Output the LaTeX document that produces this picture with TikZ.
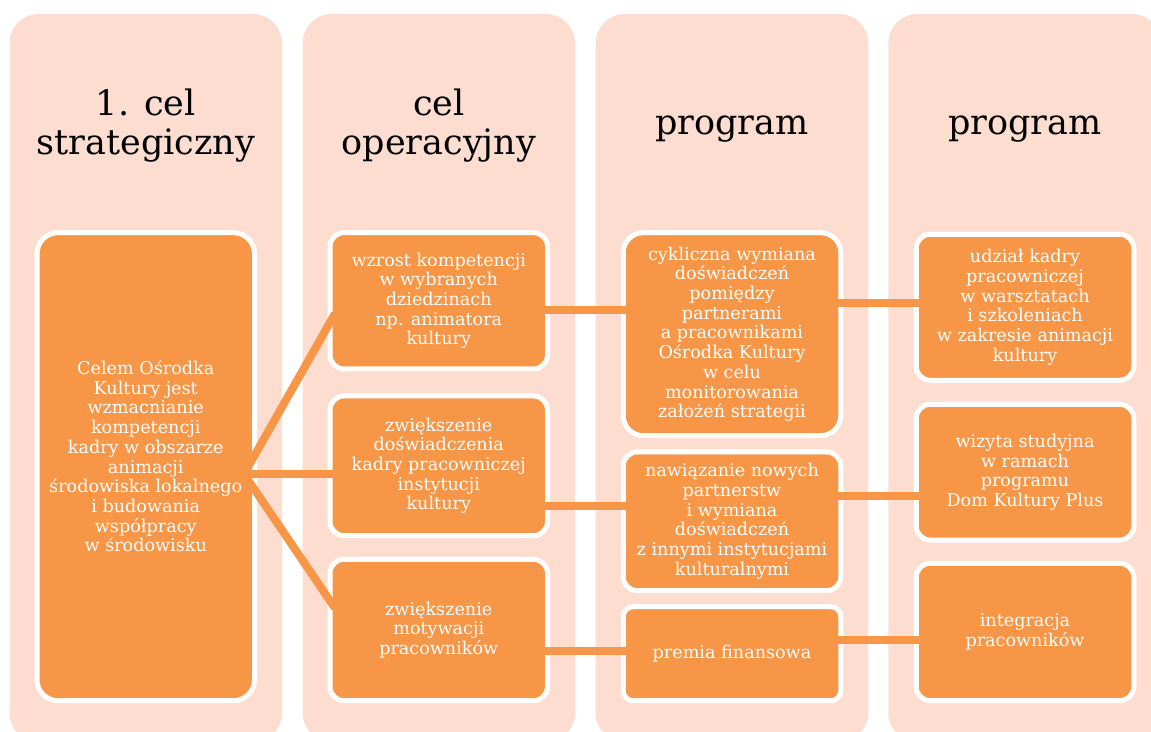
\documentclass[tikz,border=0pt]{standalone}
\usepackage{fontspec}
\setmainfont{DejaVu Serif}
\usetikzlibrary{calc}
\definecolor{bgpeach}{HTML}{FCDDD0}
\definecolor{nodeorange}{HTML}{F79646}
\begin{document}
\begin{tikzpicture}[x=1pt,y=-1pt,
  colbg/.style={fill=bgpeach, draw=none, rounded corners=29pt},
  header/.style={font=\fontsize{35}{39}\selectfont, text=black, align=center, inner sep=0pt},
  box/.style={draw=white, line width=5pt, fill=nodeorange, minimum width=217.5pt, inner sep=0pt, outer sep=0pt, text=white, align=center, font=\fontsize{17.6}{19.7}\selectfont, rounded corners=14pt},
  boxtext/.style={inner sep=0pt, text=white, align=center, font=\fontsize{17.6}{19.7}\selectfont},
  conn/.style={draw=nodeorange, line width=8pt}]
\useasboundingbox (0,0) rectangle (1151,731);
\clip (0,0) rectangle (1151,731);
% background columns
\fill[colbg] (9.6,14) rectangle (282,742);
\fill[colbg] (302.7,14) rectangle (575,742);
\fill[colbg] (595.7,14) rectangle (868.3,742);
\fill[colbg] (888.3,14) rectangle (1161,742);
% headers
\node[header] (h1) at (145.8,125.4) {1. cel\\strategiczny};
\node[header] (h2) at (438.9,125.4) {cel\\operacyjny};
\node[header, anchor=base] (h3) at (732,134.5) {program};
\node[header, anchor=base] (h4) at (1025,134.5) {program};
% nodes
\node[box, minimum height=468pt, rounded corners=21pt] (goal) at (145.75,466.7) {};
\node[boxtext] (goaltext) at (145.75,456.5) {Celem Ośrodka\\Kultury jest\\wzmacnianie\\kompetencji\\kadry w obszarze\\animacji\\środowiska lokalnego\\i budowania\\współpracy\\w środowisku};
\node[box, minimum height=136.3pt] (n1) at (438.75,300.8) {wzrost kompetencji\\w wybranych\\dziedzinach\\np. animatora\\kultury};
\node[box, minimum height=139.7pt] (n2) at (438.75,465.8) {zwiększenie\\doświadczenia\\kadry pracowniczej\\instytucji\\kultury};
\node[box, minimum height=141.4pt] (n3) at (438.75,630) {zwiększenie\\motywacji\\pracowników};
\node[box, minimum height=203pt, rounded corners=20pt] (m1) at (732,334.2) {cykliczna wymiana\\doświadczeń\\pomiędzy\\partnerami\\a pracownikami\\Ośrodka Kultury\\w celu\\monitorowania\\założeń strategii};
\node[box, minimum height=138.7pt] (m2) at (732,521.3) {nawiązanie nowych\\partnerstw\\i wymiana\\doświadczeń\\z innymi instytucjami\\kulturalnymi};
\node[box, minimum height=94pt, rounded corners=10pt] (m3) at (732,653.7) {premia finansowa};
\node[box, minimum height=146pt] (p1) at (1025,307.3) {udział kadry\\pracowniczej\\w warsztatach\\i szkoleniach\\w zakresie animacji\\kultury};
\node[box, minimum height=135.7pt] (p2) at (1025,472.2) {wizyta studyjna\\w ramach\\programu\\Dom Kultury Plus};
\node[box, minimum height=137.4pt] (p3) at (1025,632) {integracja\\pracowników};
% connectors
\coordinate (J) at ($(goal.east)+(-10.5,7.3)$);
\draw[conn] (J) -- ($(n1.west)+(5,12.8)$);
\draw[conn] (J) -- ($(n2.west)+(5,8.2)$);
\draw[conn] (J) -- ($(n3.west)+(5,-21.8)$);
\draw[conn] ($(n1.east)+(-3,9.2)$) -- ($(n1.east -| m1.west)+(3,9.2)$);
\draw[conn] ($(n2.east)+(-3,40.2)$) -- ($(n2.east -| m2.west)+(3,40.2)$);
\draw[conn] ($(n3.east)+(-3,21)$) -- ($(n3.east -| m3.west)+(3,21)$);
\draw[conn] ($(m1.east)+(-3,-31.2)$) -- ($(m1.east -| p1.west)+(3,-31.2)$);
\draw[conn] ($(m2.east)+(-3,-25.3)$) -- ($(m2.east -| p2.west)+(3,-25.3)$);
\draw[conn] ($(m3.east)+(-3,-14.2)$) -- ($(m3.east -| p3.west)+(3,-14.2)$);
\end{tikzpicture}
\end{document}
